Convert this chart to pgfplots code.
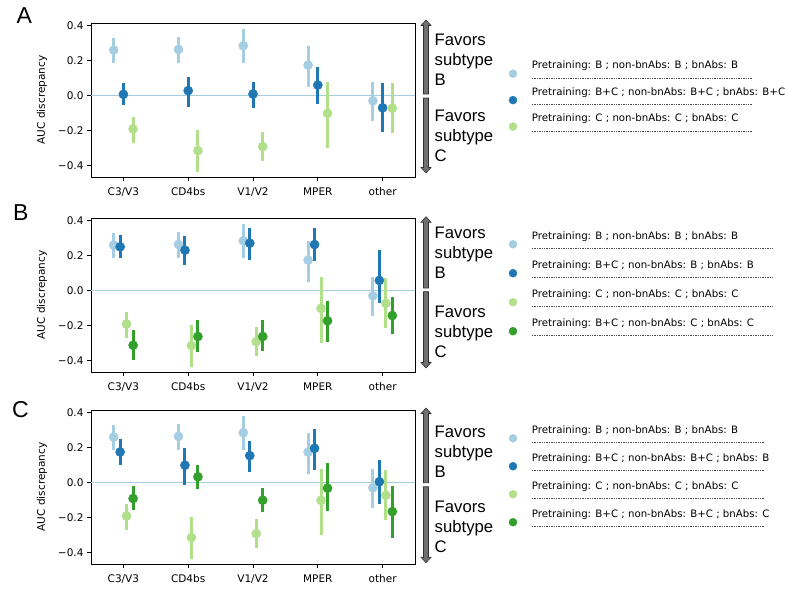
\documentclass[border=0pt]{standalone}
\usepackage{fontspec}
\setmainfont{DejaVu Sans}
\newfontfamily\arialfont{Liberation Sans}
\usepackage{pgfplots}
\pgfplotsset{compat=1.18}
\usepackage{pgfplotstable}

\definecolor{lb}{HTML}{A6CEE3}
\definecolor{db}{HTML}{1F78B4}
\definecolor{lg}{HTML}{B2DF8A}
\definecolor{dg}{HTML}{33A02C}
\definecolor{arrfill}{HTML}{707070}
\definecolor{arrline}{HTML}{303030}

% c = category index, y = point, lo/hi = ends of the error bar
\pgfplotstableread{
c y lo hi
0 0.261 0.185 0.333
1 0.265 0.185 0.337
2 0.286 0.189 0.379
3 0.175 0.051 0.284
4 -0.029 -0.143 0.076
}\LB
\pgfplotstableread{
c y lo hi
0 -0.190 -0.269 -0.120
1 -0.314 -0.434 -0.196
2 -0.291 -0.371 -0.210
3 -0.101 -0.301 0.080
4 -0.072 -0.215 0.070
}\LG
\pgfplotstableread{
c y lo hi
0 0.008 -0.051 0.070
1 0.029 -0.063 0.109
2 0.010 -0.069 0.080
3 0.061 -0.048 0.162
4 -0.069 -0.208 0.070
}\DBa
\pgfplotstableread{
c y lo hi
0 0.251 0.190 0.318
1 0.232 0.145 0.314
2 0.272 0.176 0.360
3 0.264 0.172 0.356
4 0.059 -0.073 0.232
}\DBb
\pgfplotstableread{
c y lo hi
0 -0.312 -0.394 -0.222
1 -0.262 -0.352 -0.165
2 -0.262 -0.344 -0.168
3 -0.172 -0.291 -0.061
4 -0.142 -0.245 -0.034
}\DGb
\pgfplotstableread{
c y lo hi
0 0.176 0.103 0.249
1 0.100 -0.015 0.199
2 0.155 0.061 0.239
3 0.197 0.073 0.306
4 0.006 -0.122 0.130
}\DBc
\pgfplotstableread{
c y lo hi
0 -0.090 -0.157 -0.019
1 0.034 -0.034 0.100
2 -0.100 -0.167 -0.031
3 -0.031 -0.163 0.111
4 -0.165 -0.314 -0.019
}\DGc

\newcommand{\dashes}[1]{\hbox to #1{\color{black!70}\leaders\hbox{\rule[3pt]{1.5pt}{0.45pt}\hskip0.9pt}\hfill}}
\newcommand{\entry}[2]{\begin{tabular}{@{}l@{}}#1\\\dashes{#2}\end{tabular}}

\pgfplotsset{
  panel/.style={
    scale only axis, width=324pt, height=154pt,
    xmin=-0.5, xmax=4.5, ymin=-0.465, ymax=0.416,
    xtick={0,1,2,3,4}, xticklabels={C3/V3,CD4bs,V1/V2,MPER,other},
    ytick={-0.4,-0.2,0,0.2,0.4}, yticklabels={−0.4,−0.2,0.0,0.2,0.4},
    tick align=outside, tick pos=left, major tick length=4pt,
    axis line style={line width=0.8pt},
    every tick/.style={black, line width=0.8pt},
    ticklabel style={font=\fontsize{10.5}{12}\selectfont},
    xticklabel style={yshift=-3pt},
    ylabel={AUC discrepancy},
    every axis y label/.style={at={(axis description cs:-0.151,0.5)}, rotate=90, anchor=center, font=\fontsize{10.5}{12}\selectfont},
    clip=false,
    legend cell align=left,
    legend image code/.code={\draw[##1, mark size=4pt] plot coordinates {(0pt,-1pt)};},
    legend style={draw=none, fill=none, inner sep=0pt, outer sep=0pt,
      nodes={inner sep=0pt, text depth=, text height=}, column sep=15pt, anchor=north west,
      font=\fontsize{10.2}{12.24}\selectfont},
  },
  ser/.style={only marks, color=#1, mark=*, mark size=4.6pt,
    error bars/.cd, y dir=both, y explicit, error mark=none,
    error bar style={line width=3pt, color=#1}},
}
\newcommand{\ser}[3]{% color, offset, table
  \addplot[ser=#1] table[x expr=\thisrow{c}+#2, y=y,
    y error plus expr=\thisrow{hi}-\thisrow{y},
    y error minus expr=\thisrow{y}-\thisrow{lo}] #3;}
\newcommand{\zeroline}{\draw[lb, line width=1.5pt] (axis cs:-0.5,0) -- (axis cs:4.5,0);}

\newcommand{\arrowup}[2]{\filldraw[fill=arrfill, draw=arrline, line width=0.6pt]
  (423.5,#2) -- (423.5,#1+5.5) -- (421,#1+5.5) -- (426,#1) -- (431,#1+5.5) -- (428.5,#1+5.5) -- (428.5,#2) -- cycle;}
\newcommand{\arrowdown}[2]{\filldraw[fill=arrfill, draw=arrline, line width=0.6pt]
  (423.5,#1) -- (423.5,#2-5.5) -- (421,#2-5.5) -- (426,#2) -- (431,#2-5.5) -- (428.5,#2-5.5) -- (428.5,#1) -- cycle;}
\newcommand{\favors}[6]{%
  \foreach \t/\yy in {Favors/#1, subtype/#2, B/#3, Favors/#4, subtype/#5, C/#6}
    \node[anchor=base west, inner sep=0pt, font=\arialfont\fontsize{16.7}{20}\selectfont] at (434.5,\yy) {\t};}

\begin{document}
\begin{tikzpicture}
\useasboundingbox (0,0) rectangle (786pt,-592pt);

% ---------------- A
\begin{axis}[panel, at={(91pt,-23pt)}, anchor=north west,
  legend style={at={(axis description cs:1.2901,0.7571)}, row sep=2pt}]
\zeroline
\ser{lb}{-0.15}{\LB}
\addlegendentry{\entry{Pretraining: B ; non-bnAbs: B ; bnAbs: B}{222pt}}
\ser{db}{0}{\DBa}
\addlegendentry{\entry{Pretraining: B+C ; non-bnAbs: B+C ; bnAbs: B+C}{222pt}}
\ser{lg}{0.15}{\LG}
\addlegendentry{\entry{Pretraining: C ; non-bnAbs: C ; bnAbs: C}{222pt}}
\end{axis}

% ---------------- B
\begin{axis}[panel, at={(91pt,-218pt)}, anchor=north west,
  legend style={at={(axis description cs:1.2901,0.9156)}, row sep=4.5pt}]
\zeroline
\ser{lb}{-0.15}{\LB}
\addlegendentry{\entry{Pretraining: B ; non-bnAbs: B ; bnAbs: B}{244pt}}
\ser{db}{-0.05}{\DBb}
\addlegendentry{\entry{Pretraining: B+C ; non-bnAbs: B ; bnAbs: B}{244pt}}
\ser{lg}{0.05}{\LG}
\addlegendentry{\entry{Pretraining: C ; non-bnAbs: C ; bnAbs: C}{244pt}}
\ser{dg}{0.15}{\DGb}
\addlegendentry{\entry{Pretraining: B+C ; non-bnAbs: C ; bnAbs: C}{244pt}}
\end{axis}

% ---------------- C
\begin{axis}[panel, at={(91pt,-410pt)}, anchor=north west,
  legend style={at={(axis description cs:1.2901,0.9026)}, row sep=3.5pt}]
\zeroline
\ser{lb}{-0.15}{\LB}
\addlegendentry{\entry{Pretraining: B ; non-bnAbs: B ; bnAbs: B}{233pt}}
\ser{db}{-0.05}{\DBc}
\addlegendentry{\entry{Pretraining: B+C ; non-bnAbs: B+C ; bnAbs: B}{233pt}}
\ser{lg}{0.05}{\LG}
\addlegendentry{\entry{Pretraining: C ; non-bnAbs: C ; bnAbs: C}{233pt}}
\ser{dg}{0.15}{\DGc}
\addlegendentry{\entry{Pretraining: B+C ; non-bnAbs: B+C ; bnAbs: C}{233pt}}
\end{axis}

\begin{scope}[x=1pt, y=-1pt]
\node[anchor=base west, inner sep=0pt, font=\arialfont\fontsize{23}{26}\selectfont] at (16.5,23) {A};
\node[anchor=base west, inner sep=0pt, font=\arialfont\fontsize{23}{26}\selectfont] at (13,220) {B};
\node[anchor=base west, inner sep=0pt, font=\arialfont\fontsize{23}{26}\selectfont] at (12,417) {C};
\arrowup{20}{94}\arrowdown{98}{173}
\arrowup{216.7}{288}\arrowdown{291.7}{368}
\arrowup{408}{482.7}\arrowdown{486.7}{562.7}
\favors{45}{65}{85}{121}{141}{161}
\favors{238}{258}{278}{317}{337}{357}
\favors{437}{457}{477}{512}{532}{552}
\end{scope}
\end{tikzpicture}
\end{document}
